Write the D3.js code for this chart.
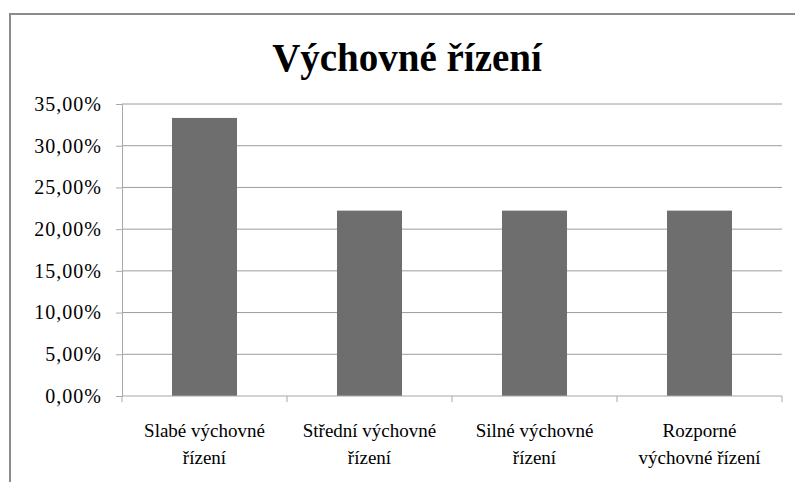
<!DOCTYPE html>
<html>
<head>
<meta charset="utf-8">
<script src="https://cdn.jsdelivr.net/npm/d3@7"></script>
<style>
  body { margin: 0; background: #fff; }
  svg { display: block; font-family: "Liberation Serif", "Times New Roman", serif; }
</style>
</head>
<body>
<div class="chart"></div>
<script>
const title = 'Výchovné řízení'
const categories = [
  ['Slabé výchovné', 'řízení'],
  ['Střední výchovné', 'řízení'],
  ['Silné výchovné', 'řízení'],
  ['Rozporné', 'výchovné řízení']
]
const values = [33.33, 22.22, 22.22, 22.22]
const yTicks = [0, 5, 10, 15, 20, 25, 30, 35]

drawChart()

function drawChart() {
  const W = 795, H = 482
  const m = { left: 122, right: 13, top: 104, bottom: 86 }

  const svg = d3.select('.chart')
    .append('svg')
    .attr('width', W)
    .attr('height', H)

  // chart frame (only top and left edges visible)
  svg.append('path')
    .attr('d', `M10,${H} L10,14 L${W},14`)
    .attr('fill', 'none')
    .attr('stroke', '#8c8c8c')
    .attr('stroke-width', 2)

  svg.append('text')
    .attr('x', 407)
    .attr('y', 71)
    .attr('text-anchor', 'middle')
    .attr('font-size', 39)
    .attr('font-weight', 'bold')
    .text(title)

  const x = d3.scaleBand()
    .domain(d3.range(categories.length))
    .range([m.left, W - m.right])
    .paddingInner(0.606)
    .paddingOuter(0.303)

  const xOuter = d3.scaleBand()
    .domain(d3.range(categories.length))
    .range([m.left, W - m.right])

  const y = d3.scaleLinear()
    .domain([0, 35])
    .range([H - m.bottom, m.top])

  // gridlines
  svg.append('g')
    .selectAll('line')
    .data(yTicks.slice(1))
    .enter()
    .append('line')
    .attr('x1', m.left)
    .attr('x2', W - m.right)
    .attr('y1', d => y(d))
    .attr('y2', d => y(d))
    .attr('stroke', '#9c9c9c')

  const yAxis = svg.append('g')
    .attr('transform', `translate(${m.left},0)`)
    .call(d3.axisLeft(y).tickValues(yTicks).tickSize(6).tickPadding(14)
      .tickFormat(d => d.toFixed(2).replace('.', ',') + '%'))
  yAxis.attr('font-family', null).attr('font-size', null)
  yAxis.selectAll('text').attr('font-size', 20).attr('fill', '#000')
    .attr('letter-spacing', 1)
  yAxis.select('.domain').attr('stroke', '#a8a8a8')
  yAxis.selectAll('.tick line').attr('stroke', '#a8a8a8')

  svg.append('g')
    .selectAll('rect')
    .data(values)
    .enter()
    .append('rect')
    .attr('x', (d, i) => x(i))
    .attr('width', x.bandwidth())
    .attr('y', d => y(d))
    .attr('height', d => y(0) - y(d))
    .attr('fill', '#6e6e6e')

  const bounds = categories.map((c, i) => xOuter(i)).concat([W - m.right])
  const xAxis = svg.append('g')
    .attr('transform', `translate(0,${H - m.bottom})`)
  xAxis.append('line')
    .attr('x1', m.left).attr('x2', W - m.right)
    .attr('stroke', '#a8a8a8')
  xAxis.selectAll('.tk')
    .data(bounds)
    .enter()
    .append('line')
    .attr('x1', d => d).attr('x2', d => d)
    .attr('y1', 0).attr('y2', 6)
    .attr('stroke', '#a8a8a8')

  const labels = xAxis.selectAll('.lbl')
    .data(categories)
    .enter()
    .append('text')
    .attr('text-anchor', 'middle')
    .attr('font-size', 19)
    .attr('x', (d, i) => xOuter(i) + xOuter.bandwidth() / 2)
  labels.selectAll('tspan')
    .data(d => d)
    .enter()
    .append('tspan')
    .attr('x', function () { return this.parentNode.getAttribute('x') })
    .attr('y', (d, i) => 41 + i * 27)
    .text(d => d)
}
</script>
</body>
</html>
